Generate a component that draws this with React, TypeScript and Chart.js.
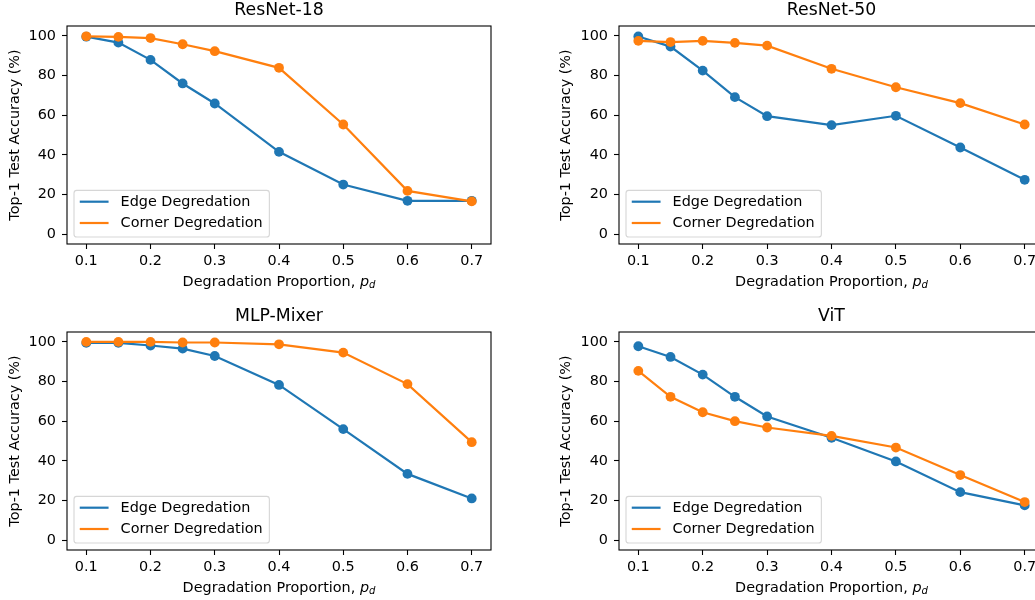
import React, { useEffect, useRef } from "react";
import { Chart, registerables } from "chart.js";

Chart.register(...registerables);

const FONT = '"DejaVu Sans", "Liberation Sans", sans-serif';

// ---- data ----
const proportions = [0.1, 0.15, 0.2, 0.25, 0.3, 0.4, 0.5, 0.6, 0.7];
const xTickValues = [0.1, 0.2, 0.3, 0.4, 0.5, 0.6, 0.7];
const yTickValues = [0, 20, 40, 60, 80, 100];
const seriesNames = ["Edge Degredation", "Corner Degredation"];
const seriesColors = ["#1f77b4", "#ff7f0e"];
const panelTitles = ["ResNet-18", "ResNet-50", "MLP-Mixer", "ViT"];

const resnet18Edge = [99.6, 96.6, 87.9, 76.0, 65.9, 41.5, 25.0, 16.8, 16.8];
const resnet18Corner = [99.8, 99.5, 98.9, 95.8, 92.3, 83.9, 55.3, 21.8, 16.5];
const resnet50Edge = [99.7, 94.6, 82.5, 69.1, 59.5, 55.0, 59.7, 43.7, 27.4];
const resnet50Corner = [97.5, 96.9, 97.5, 96.5, 95.1, 83.4, 74.1, 66.1, 55.3];
const mixerEdge = [99.5, 99.5, 98.2, 96.6, 92.9, 78.3, 56.0, 33.4, 21.0];
const mixerCorner = [100.0, 100.0, 100.0, 99.7, 99.7, 98.8, 94.6, 78.7, 49.4];
const vitEdge = [97.8, 92.4, 83.5, 72.3, 62.4, 51.6, 39.7, 24.2, 17.5];
const vitCorner = [85.4, 72.3, 64.5, 60.0, 56.8, 52.6, 46.7, 32.8, 19.2];

const panelSeries = [
  [resnet18Edge, resnet18Corner],
  [resnet50Edge, resnet50Corner],
  [mixerEdge, mixerCorner],
  [vitEdge, vitCorner],
];

// ---- layout (page pixels) ----
type Panel = {
  left: number; top: number; width: number; height: number;
  areaLeft: number; areaTop: number; areaRight: number; areaBottom: number;
  yLabelX: number;
};
const panels: Panel[] = [
  { left: 0, top: 0, width: 517, height: 300, areaLeft: 67, areaTop: 26, areaRight: 491, areaBottom: 244, yLabelX: 15 },
  { left: 517, top: 0, width: 540, height: 300, areaLeft: 102, areaTop: 26, areaRight: 527, areaBottom: 244, yLabelX: 49.7 },
  { left: 0, top: 300, width: 517, height: 300, areaLeft: 67, areaTop: 32, areaRight: 491, areaBottom: 250, yLabelX: 15 },
  { left: 517, top: 300, width: 540, height: 300, areaLeft: 102, areaTop: 32, areaRight: 527, areaBottom: 250, yLabelX: 49.7 },
];

const FS = 14.4;
const TITLE_FS = 17.3;

const decorPlugin = {
  id: "decor",
  afterDraw(chart: any, _args: any, opts: any) {
    const { ctx, chartArea: a } = chart;
    ctx.save();
    // frame
    ctx.strokeStyle = "#000";
    ctx.lineWidth = 1.1;
    ctx.strokeRect(a.left, a.top, a.right - a.left, a.bottom - a.top);

    const cx = (a.left + a.right) / 2;
    // title
    ctx.fillStyle = "#000";
    ctx.font = `${TITLE_FS}px ${FONT}`;
    ctx.textAlign = "center";
    ctx.textBaseline = "middle";
    ctx.fillText(opts.title, cx, a.top - 15.3);

    // x label with math italic p_d
    const main = "Degradation Proportion, ";
    ctx.textAlign = "left";
    ctx.textBaseline = "middle";
    ctx.font = `${FS}px ${FONT}`;
    const w1 = ctx.measureText(main).width;
    ctx.font = `italic ${FS}px ${FONT}`;
    const wp = ctx.measureText("p").width;
    ctx.font = `italic ${FS * 0.7}px ${FONT}`;
    const wd = ctx.measureText("d").width;
    const total = w1 + wp + wd;
    let x = cx - total / 2;
    const ly = a.bottom + 38;
    ctx.font = `${FS}px ${FONT}`;
    ctx.fillText(main, x, ly);
    x += w1;
    ctx.font = `italic ${FS}px ${FONT}`;
    ctx.fillText("p", x, ly);
    x += wp;
    ctx.font = `italic ${FS * 0.7}px ${FONT}`;
    ctx.fillText("d", x, ly + 3.6);

    // legend (lower left)
    const ds = chart.data.datasets;
    ctx.font = `${FS}px ${FONT}`;
    let tw = 0;
    ds.forEach((d: any) => { tw = Math.max(tw, ctx.measureText(d.label).width); });
    const pad = 0.4 * FS;
    const handle = 2 * FS;
    const hpad = 0.8 * FS;
    const bw = pad + handle + hpad + tw + pad + 1.5;
    const bh = 46.6;
    const bx = a.left + 7;
    const by = a.bottom - 7 - bh;
    const r = 2.8;
    ctx.beginPath();
    ctx.moveTo(bx + r, by);
    ctx.lineTo(bx + bw - r, by);
    ctx.arcTo(bx + bw, by, bx + bw, by + r, r);
    ctx.lineTo(bx + bw, by + bh - r);
    ctx.arcTo(bx + bw, by + bh, bx + bw - r, by + bh, r);
    ctx.lineTo(bx + r, by + bh);
    ctx.arcTo(bx, by + bh, bx, by + bh - r, r);
    ctx.lineTo(bx, by + r);
    ctx.arcTo(bx, by, bx + r, by, r);
    ctx.closePath();
    ctx.fillStyle = "rgba(255,255,255,0.8)";
    ctx.fill();
    ctx.strokeStyle = "rgba(204,204,204,0.8)";
    ctx.lineWidth = 1.1;
    ctx.stroke();
    const rows = [11.3, 32.6];
    ds.forEach((d: any, i: number) => {
      const yy = by + rows[i];
      ctx.strokeStyle = d.borderColor;
      ctx.lineWidth = 2.2;
      ctx.beginPath();
      ctx.moveTo(bx + pad, yy);
      ctx.lineTo(bx + pad + handle, yy);
      ctx.stroke();
      ctx.fillStyle = "#000";
      ctx.textAlign = "left";
      ctx.textBaseline = "middle";
      ctx.fillText(d.label, bx + pad + handle + hpad + 0.5, yy + 0.5);
    });
    ctx.restore();
  },
};

function PanelChart({ index }: { index: number }) {
  const ref = useRef<HTMLCanvasElement | null>(null);
  const p = panels[index];
  useEffect(() => {
    const canvas = ref.current;
    if (!canvas) return;
    const series = panelSeries[index];
    const lineHeight = FS * 1.2;
    const chart = new Chart(canvas, {
      type: "line",
      data: {
        datasets: series.map((vals, si) => ({
          label: seriesNames[si],
          data: proportions.map((x, k) => ({ x, y: vals[k] })),
          borderColor: seriesColors[si],
          backgroundColor: seriesColors[si],
          pointBackgroundColor: seriesColors[si],
          pointBorderColor: seriesColors[si],
          pointBorderWidth: 0,
          pointRadius: 4.9,
          borderWidth: 2.2,
          tension: 0,
          fill: false,
          order: si === 0 ? 1 : 0,
        })),
      },
      options: {
        responsive: false,
        maintainAspectRatio: false,
        animation: false,
        devicePixelRatio: 1,
        events: [],
        layout: {
          padding: { left: 0, top: p.areaTop, right: p.width - p.areaRight, bottom: 0 },
        },
        plugins: {
          legend: { display: false },
          tooltip: { enabled: false },
          title: { display: false },
          decor: { title: panelTitles[index] },
        } as any,
        scales: {
          x: {
            type: "linear",
            min: 0.07,
            max: 0.73,
            bounds: "data",
            afterFit: (s: any) => { s.height = p.height - p.areaBottom; },
            afterBuildTicks: (s: any) => { s.ticks = xTickValues.map((v) => ({ value: v })); },
            ticks: {
              color: "#000",
              font: { family: FONT, size: FS },
              padding: 4,
              maxRotation: 0,
              autoSkip: false,
              callback: (v: any) => Number(v).toFixed(1),
            },
            grid: { display: true, drawOnChartArea: false, drawTicks: true, tickLength: 5, tickColor: "#000", tickWidth: 1.1 },
            border: { display: false },
          },
          y: {
            type: "linear",
            min: -5,
            max: 105,
            bounds: "data",
            afterFit: (s: any) => { s.width = p.areaLeft; },
            afterBuildTicks: (s: any) => { s.ticks = yTickValues.map((v) => ({ value: v })); },
            ticks: {
              color: "#000",
              font: { family: FONT, size: FS },
              padding: 6,
              autoSkip: false,
              callback: (v: any) => String(Math.round(Number(v))),
            },
            grid: { display: true, drawOnChartArea: false, drawTicks: true, tickLength: 5, tickColor: "#000", tickWidth: 1.1 },
            border: { display: false },
            title: {
              display: true,
              text: "Top-1 Test Accuracy (%)",
              color: "#000",
              font: { family: FONT, size: FS },
              padding: { top: p.yLabelX - lineHeight / 2, bottom: 0 },
            },
          },
        },
      } as any,
      plugins: [decorPlugin],
    });
    return () => chart.destroy();
  }, [index]);
  return (
    <canvas
      ref={ref}
      width={p.width}
      height={p.height}
      style={{ position: "absolute", left: p.left, top: p.top, width: p.width, height: p.height, display: "block" }}
    />
  );
}

export default function App() {
  return (
    <div
      style={{
        position: "absolute",
        left: 0,
        top: 0,
        width: 1035,
        height: 600,
        overflow: "hidden",
        background: "#fff",
      }}
    >
      {panels.map((_, i) => (
        <PanelChart key={i} index={i} />
      ))}
    </div>
  );
}
